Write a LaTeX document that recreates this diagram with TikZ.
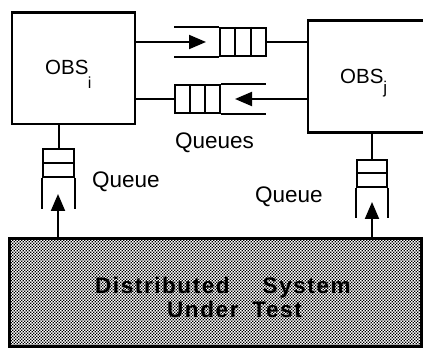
\documentclass[tikz,border=0pt]{standalone}
\usepackage{fontspec}
\setmainfont{Liberation Sans}
\newfontfamily\dutfont[LetterSpace=7]{Liberation Sans}
\usetikzlibrary{arrows.meta,patterns,calc}
\pgfdeclarepatternformonly{dutdots}{\pgfqpoint{-0.1pt}{-0.1pt}}{\pgfqpoint{3.1pt}{3.1pt}}{\pgfqpoint{3pt}{3pt}}{%
  \pgfpathrectangle{\pgfqpoint{0pt}{0pt}}{\pgfqpoint{1.4pt}{1.4pt}}%
  \pgfpathrectangle{\pgfqpoint{1.5pt}{1.5pt}}{\pgfqpoint{1.4pt}{1.4pt}}%
  \pgfusepath{fill}}
\begin{document}
\begin{tikzpicture}[x=1pt,y=-1pt,
  box/.style={draw,line width=2.2pt,inner sep=0pt},
  qbox/.style={draw,line width=2pt,inner sep=0pt,fill=white},
  conn/.style={line width=2pt},
  arr/.style={line width=2pt,-{Triangle[length=17pt,width=14pt]}},
  lbl/.style={inner sep=0pt,font=\fontsize{22.5}{24}\selectfont},
  obslbl/.style={inner sep=0pt,anchor=base west,font=\fontsize{20.5}{22}\selectfont},
  dutlbl/.style={inner sep=0pt,anchor=base west,font=\dutfont\bfseries\fontsize{22.5}{24}\selectfont}
  ]
\useasboundingbox (0,0) rectangle (423,355);
\clip (0,0) rectangle (423,355);

% observer boxes
\node[box,anchor=north west,minimum width=123pt,minimum height=111.5pt] (obsi) at (11,11.5) {};
\node[box,anchor=north west,minimum width=140pt,minimum height=112pt] (obsj) at (307,19.5) {};
\node[obslbl] (ti) at (45,75) {OBS\kern-0.5pt\raisebox{-13.5pt}{\fontsize{16}{16}\selectfont i}};
\node[obslbl] (tj) at (340,83.3) {OBS\raisebox{-10pt}{\fontsize{17}{17}\selectfont j}};

% distributed system under test
\node[box,line width=3pt,pattern=dutdots,anchor=north west,minimum width=412pt,minimum height=107.5pt] (dut) at (8,237.5) {};
\node[dutlbl] (d1) at (95,294) {Distributed\hspace{33pt}System};
\node[dutlbl] (d2) at (167,318) {Under\hspace{14pt}Test};

% top horizontal queue (i -> j)
\node[qbox,minimum width=46pt,minimum height=28pt] (q1) at (243,42) {};
\draw[conn] ($(q1.north west)!1/3!(q1.north east)$) -- ($(q1.south west)!1/3!(q1.south east)$);
\draw[conn] ($(q1.north west)!2/3!(q1.north east)$) -- ($(q1.south west)!2/3!(q1.south east)$);
\draw[conn] (q1.north west) -- ++(-45,0);
\draw[conn] (q1.south west) -- ++(-45,0);
\coordinate (t1) at (206,42);
\draw[arr] (obsi.east |- q1) -- (t1);
\draw[conn] (q1.east) -- (q1.east -| obsj.west);

% bottom horizontal queue (j -> i)
\node[qbox,minimum width=45pt,minimum height=28pt] (q2) at (197.5,99) {};
\draw[conn] ($(q2.north west)!1/3!(q2.north east)$) -- ($(q2.south west)!1/3!(q2.south east)$);
\draw[conn] ($(q2.north west)!2/3!(q2.north east)$) -- ($(q2.south west)!2/3!(q2.south east)$);
\draw[conn] (q2.north east) -- ++(45,0);
\draw[conn] (q2.south east) -- ++(45,0);
\draw[conn] (obsi.east |- q2) -- (q2.west);
\coordinate (t2) at (235,99);
\draw[arr] (obsj.west |- q2) -- (t2);

% left vertical queue
\node[qbox,minimum width=31pt,minimum height=28pt] (q3) at (58.5,163) {};
\draw[conn] (q3.west) -- (q3.east);
\draw[conn] (q3.south west) -- ++(0,31);
\draw[conn] (q3.south east) -- ++(0,31);
\draw[conn] (q3.north |- obsi.south) -- (q3.north);
\coordinate (t3) at (58,194);
\draw[arr] (dut.north -| t3) -- (t3);

% right vertical queue
\node[qbox,minimum width=30pt,minimum height=27pt] (q4) at (372,173.5) {};
\draw[conn] (q4.west) -- (q4.east);
\draw[conn] (q4.south west) -- ++(0,30);
\draw[conn] (q4.south east) -- ++(0,30);
\draw[conn] (q4.north |- obsj.south) -- (q4.north);
\coordinate (t4) at (372,202);
\draw[arr] (dut.north -| t4) -- (t4);

% labels
\node[lbl,anchor=base west] (lq) at (175,149) {Queues};
\node[lbl,anchor=base west] (lql) at (92,188) {Queue};
\node[lbl,anchor=base west] (lqr) at (255,203) {Queue};
\end{tikzpicture}
\end{document}
